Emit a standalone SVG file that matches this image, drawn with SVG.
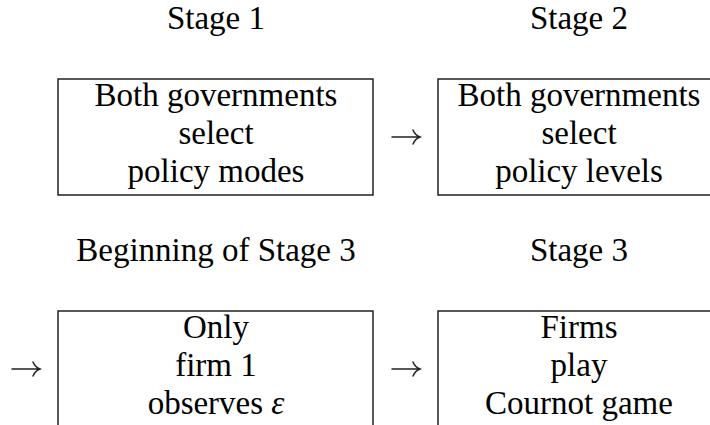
<svg xmlns="http://www.w3.org/2000/svg" width="710" height="425" viewBox="0 0 710 425">
<style>
text{font-family:"Liberation Serif","Times New Roman",serif;font-size:33px;fill:#000;text-anchor:middle}
.box{fill:none;stroke:#111;stroke-width:1.4}
.arr{fill:none;stroke:#222;stroke-width:1.5;stroke-linecap:round}
</style>
<rect width="710" height="425" fill="#fff"/>
<g id="labels">
<text x="216" y="29">Stage 1</text>
<text x="579" y="29">Stage 2</text>
<text x="216" y="261">Beginning of Stage 3</text>
<text x="579" y="261">Stage 3</text>
</g>
<g id="node1">
<rect class="box" x="58" y="79" width="315" height="116"/>
<text x="216" y="106">Both governments</text>
<text x="216" y="144">select</text>
<text x="216" y="182">policy modes</text>
</g>
<g id="node2">
<rect class="box" x="438" y="79" width="320" height="116"/>
<text x="579" y="106">Both governments</text>
<text x="579" y="144">select</text>
<text x="579" y="182">policy levels</text>
</g>
<g id="node3">
<rect class="box" x="58" y="311" width="315" height="130"/>
<text x="216" y="338">Only</text>
<text x="216" y="376">firm 1</text>
<text x="216" y="414">observes <tspan font-style="italic">ε</tspan></text>
</g>
<g id="node4">
<rect class="box" x="438" y="311" width="320" height="130"/>
<text x="579" y="338">Firms</text>
<text x="579" y="376">play</text>
<text x="579" y="414">Cournot game</text>
</g>
<g id="connectors">
<path class="arr" d="M392 137H419M413 130Q415 135 420 137Q415 139 413 144"/>
<path class="arr" d="M12 369H39M33 362Q35 367 40 369Q35 371 33 376"/>
<path class="arr" d="M392 369H419M413 362Q415 367 420 369Q415 371 413 376"/>
</g>
</svg>
